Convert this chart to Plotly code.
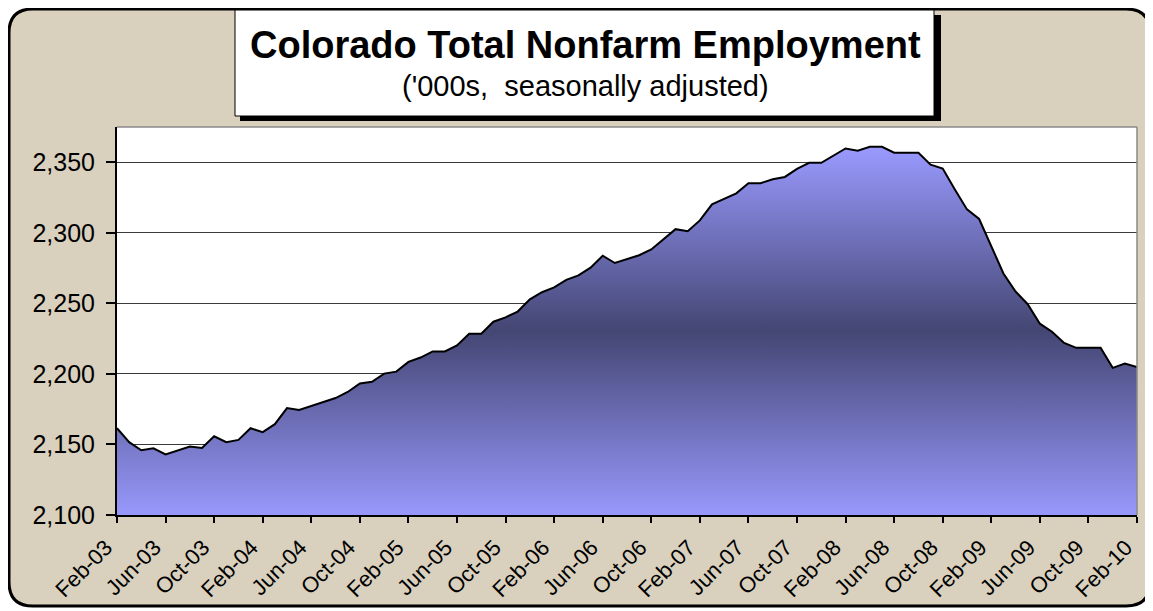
import plotly.graph_objects as go

# ---------------- data ----------------
MONTH_NAMES = ["Jan", "Feb", "Mar", "Apr", "May", "Jun",
               "Jul", "Aug", "Sep", "Oct", "Nov", "Dec"]
START_YEAR, START_MONTH, N_MONTHS = 2003, 2, 85
months = []
for k in range(N_MONTHS):
    mi = (START_MONTH - 1 + k)
    yr = START_YEAR + mi // 12
    months.append(f"{MONTH_NAMES[mi % 12]}-{yr % 100:02d}")

employment = [
    2161.5, 2151.6, 2145.9, 2147.3, 2143.0, 2145.9, 2148.5, 2147.5, 2155.8, 2151.6,
    2153.2, 2161.5, 2158.7, 2164.4, 2175.8, 2174.4, 2177.2, 2180.0, 2182.9, 2187.2,
    2193.2, 2194.4, 2200.2, 2201.6, 2208.5, 2211.6, 2215.9, 2215.9, 2220.2, 2228.5,
    2228.5, 2237.0, 2240.1, 2244.2, 2252.9, 2257.9, 2261.3, 2266.7, 2269.8, 2275.3,
    2283.8, 2278.6, 2281.3, 2284.1, 2288.2, 2295.3, 2302.6, 2301.2, 2308.8, 2320.2,
    2324.2, 2328.0, 2335.2, 2335.2, 2338.0, 2339.6, 2345.3, 2349.6, 2349.6, 2354.4,
    2359.8, 2358.2, 2361.0, 2361.0, 2356.8, 2356.8, 2356.8, 2348.3, 2345.5, 2330.7,
    2316.6, 2309.8, 2290.7, 2271.2, 2258.4, 2249.4, 2235.6, 2229.9, 2221.9, 2218.5,
    2218.5, 2218.5, 2204.3, 2207.4, 2204.8,
]

y_ticks = [2100, 2150, 2200, 2250, 2300, 2350]
x_tick_step = 4

TITLE = "Colorado Total Nonfarm Employment"
SUBTITLE = "('000s,  seasonally adjusted)"

# ---------------- layout geometry (pixels, page coords) ----------------
OFF = 8                     # page body margin
W, H = 1153 - OFF, 611 - OFF
PL, PR, PT, PB = 117 - OFF, 1137 - OFF, 127 - OFF, 515 - OFF   # plot area in figure px


def PX(x):   # x given in page pixels
    return (x - OFF - PL) / (PR - PL)


def PY(y):
    return (PB - (y - OFF)) / (PB - PT)


FONT = "Liberation Sans, Arial, sans-serif"
idx = list(range(len(months)))

fig = go.Figure()
fig.add_trace(go.Scatter(
    x=idx, y=employment, mode="lines",
    line=dict(color="black", width=2),
    fill="tozeroy",
    fillgradient=dict(
        type="vertical",
        colorscale=[[0, "#9898fc"], [0.5, "#444673"], [1, "#9a9aff"]],
        start=y_ticks[0], stop=max(employment),
    ),
    hoverinfo="x+y", showlegend=False,
))

# frame (rounded)
L, T, R, B, r = 9, 9, 1150, 606, 24
frame_path = (
    f"M {PX(L + r)},{PY(T)} L {PX(R - r)},{PY(T)} Q {PX(R)},{PY(T)} {PX(R)},{PY(T + r)} "
    f"L {PX(R)},{PY(B - r)} Q {PX(R)},{PY(B)} {PX(R - r)},{PY(B)} "
    f"L {PX(L + r)},{PY(B)} Q {PX(L)},{PY(B)} {PX(L)},{PY(B - r)} "
    f"L {PX(L)},{PY(T + r)} Q {PX(L)},{PY(T)} {PX(L + r)},{PY(T)} Z"
)
shapes = [
    dict(type="path", path=frame_path, xref="paper", yref="paper",
         fillcolor="#d9d0be", line=dict(color="black", width=3), layer="below"),
    # plot area background
    dict(type="rect", xref="paper", yref="paper", x0=0, x1=1, y0=0, y1=1,
         fillcolor="white", line=dict(width=0), layer="below"),
    # grey top/right border of plot area
    dict(type="line", xref="paper", yref="paper", x0=0, x1=1, y0=1, y1=1,
         line=dict(color="#8a8a8a", width=1.5), layer="above"),
    dict(type="line", xref="paper", yref="paper", x0=1, x1=1, y0=0, y1=1,
         line=dict(color="#8a8a8a", width=1.5), layer="above"),
    # title box shadow and box
    dict(type="rect", xref="paper", yref="paper",
         x0=PX(240), x1=PX(941), y0=PY(121), y1=PY(15),
         fillcolor="black", line=dict(width=0), layer="above"),
    dict(type="rect", xref="paper", yref="paper",
         x0=PX(235), x1=PX(934), y0=PY(116), y1=PY(10),
         fillcolor="white", line=dict(color="black", width=1), layer="above"),
]

annotations = [
    dict(text=f"<b>{TITLE}</b>", xref="paper", yref="paper", x=PX(585), y=PY(45),
         xanchor="center", yanchor="middle", showarrow=False,
         font=dict(family=FONT, size=38, color="black")),
    dict(text=SUBTITLE, xref="paper", yref="paper", x=PX(585), y=PY(86),
         xanchor="center", yanchor="middle", showarrow=False,
         font=dict(family=FONT, size=29, color="black")),
]

fig.update_layout(
    width=W, height=H,
    margin=dict(l=PL, r=W - PR, t=PT, b=H - PB, autoexpand=False),
    paper_bgcolor="white", plot_bgcolor="white",
    shapes=shapes, annotations=annotations,
    font=dict(family=FONT, color="black"),
    xaxis=dict(
        range=[0, len(months) - 1],
        automargin=False,
        tickmode="array",
        tickvals=idx[::x_tick_step],
        ticktext=months[::x_tick_step],
        tickangle=-45,
        ticks="outside", ticklen=6, tickcolor="black", tickwidth=1.5,
        ticklabelshift=-11, ticklabelstandoff=3,
        tickfont=dict(family=FONT, size=22, color="black"),
        showline=True, linecolor="black", linewidth=2,
        showgrid=False, zeroline=False,
    ),
    yaxis=dict(
        range=[2100, 2375],
        automargin=False,
        tickmode="array", tickvals=y_ticks,
        tickformat=",",
        ticks="outside", ticklen=9, tickcolor="black", tickwidth=1.5,
        ticklabelstandoff=6,
        tickfont=dict(family=FONT, size=25, color="black"),
        showline=True, linecolor="black", linewidth=2,
        showgrid=True, gridcolor="#3a3a3a", gridwidth=1,
        zeroline=False,
    ),
)

fig.write_html("out.html")
